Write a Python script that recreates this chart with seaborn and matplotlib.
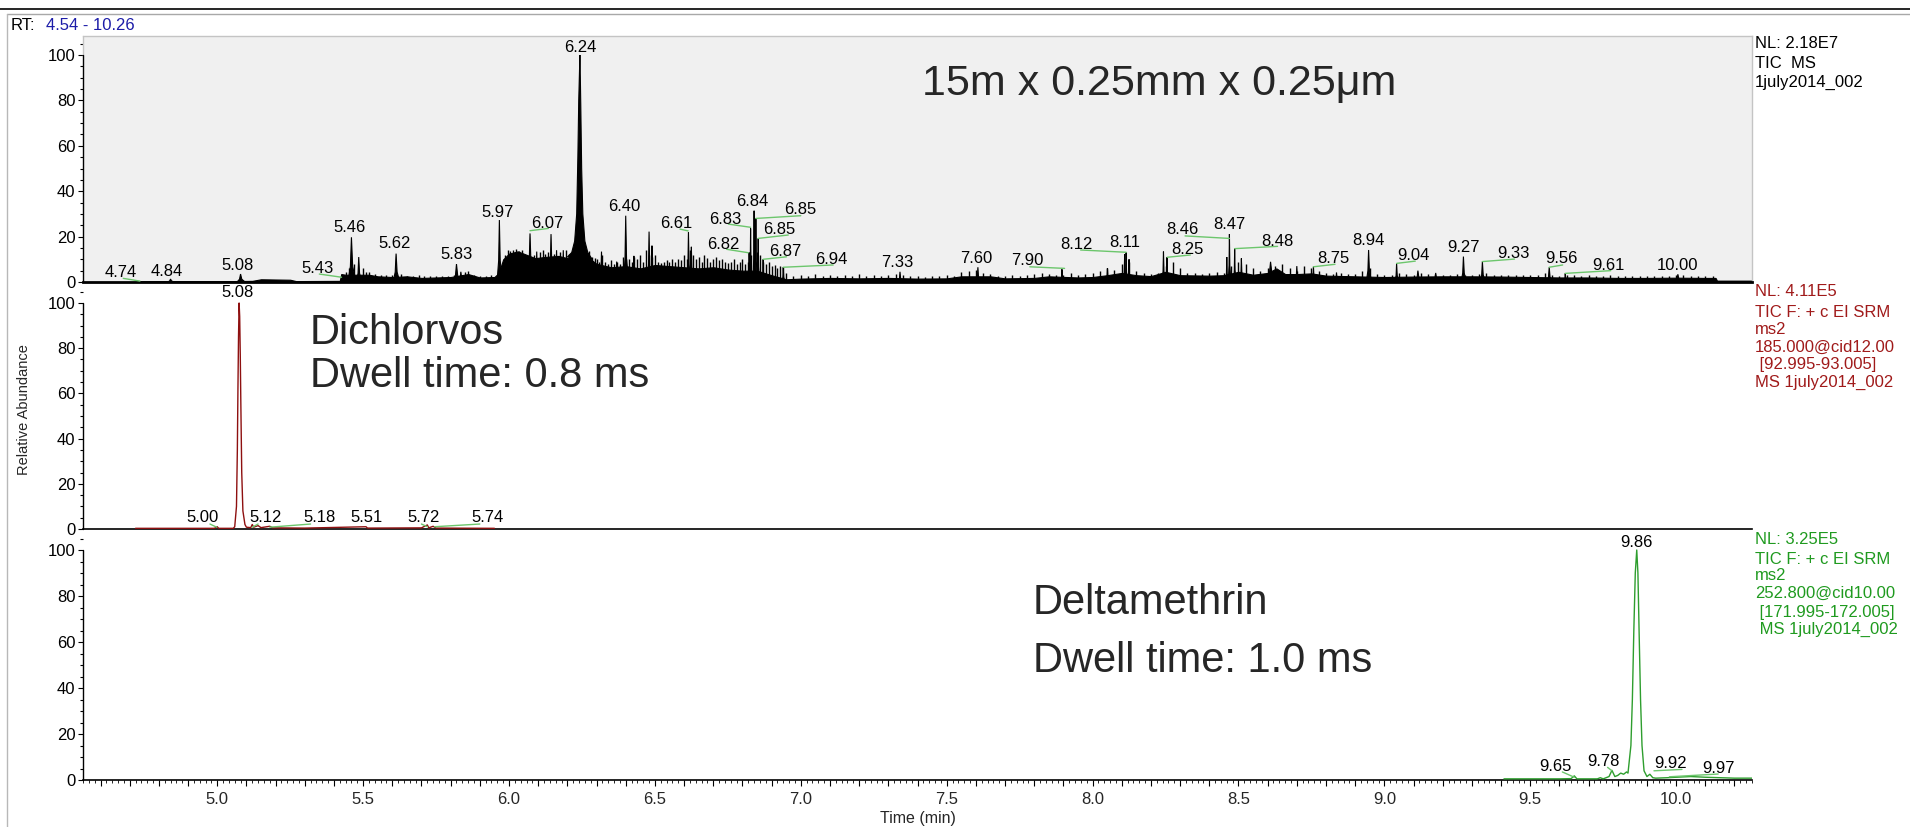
import numpy as np
import pandas as pd
import matplotlib
matplotlib.use("Agg")
import matplotlib.pyplot as plt
from matplotlib.lines import Line2D
from matplotlib.ticker import MultipleLocator, FuncFormatter
import seaborn as sns

sns.set_style("ticks")
plt.rcParams["font.family"] = ["Liberation Sans", "DejaVu Sans"]

# ---------------- data ----------------
rt_min, rt_max = 4.54, 10.26

# TIC (top panel): noise floor envelope
tic_floor_rt = [4.72, 4.83, 4.86, 5.05, 5.12, 5.15, 5.25, 5.27, 5.42, 5.425, 5.44, 5.52, 5.55, 5.60,
                5.65, 5.70, 5.80, 5.86, 5.90, 5.95, 5.965, 5.98, 6.00, 6.03, 6.06, 6.09, 6.12, 6.17,
                6.20, 6.22, 6.27, 6.30, 6.35, 6.40, 6.45, 6.50, 6.55, 6.60, 6.65, 6.70, 6.75, 6.80,
                6.85, 6.90, 6.95, 7.00, 7.10, 7.20, 7.30, 7.40, 7.50, 7.55, 7.65, 7.70, 7.80, 7.85,
                7.95, 8.00, 8.05, 8.10, 8.15, 8.20, 8.25, 8.30, 8.40, 8.45, 8.50, 8.55, 8.60, 8.63,
                8.66, 8.70, 8.75, 8.80, 8.90, 9.00, 9.10, 9.20, 9.30, 9.40, 9.50, 9.60, 9.70, 9.80,
                9.90, 10.00, 10.10, 10.135, 10.14, 10.26]
tic_floor_val = [0.3, 0.4, 0.4, 0.4, 0.5, 1.2, 1.0, 0.4, 0.5, 3.5, 3.2, 3.2, 2.5, 2.2,
                 2.5, 1.8, 2.2, 3.5, 2.0, 2.2, 4.0, 10.0, 12.5, 13.5, 12.0, 10.5, 11.0, 11.5,
                 10.5, 12.0, 11.0, 8.0, 6.5, 7.0, 6.0, 7.5, 7.0, 6.5, 6.0, 6.5, 5.5, 5.0,
                 5.0, 3.0, 1.2, 1.5, 1.8, 1.6, 1.8, 1.5, 1.6, 2.5, 2.5, 1.6, 1.8, 2.5,
                 2.0, 2.2, 3.0, 4.0, 3.0, 2.6, 4.5, 3.0, 2.8, 3.0, 4.5, 3.2, 4.0, 6.0,
                 3.5, 3.5, 3.8, 2.8, 2.5, 2.2, 2.4, 2.5, 2.5, 2.4, 2.2, 2.0, 2.0, 1.8,
                 1.8, 1.9, 1.8, 1.8, 0.6, 0.6]

# TIC main peak (6.24)
tic_main_rt = [6.200, 6.215, 6.225, 6.232, 6.236, 6.239, 6.241, 6.243, 6.2445, 6.246, 6.249,
               6.253, 6.260, 6.270, 6.285]
tic_main_val = [11, 13, 18, 30, 55, 80, 90, 100, 90, 78, 50, 30, 18, 13, 10]

# TIC other peaks
tic_peak_rt = [4.84, 5.08, 5.46, 5.485, 5.613, 5.82, 5.835, 5.967, 6.072, 6.095,
               6.144, 6.163, 6.186, 6.317, 6.369, 6.40, 6.428, 6.48, 6.49, 6.615,
               6.625, 6.823, 6.828, 6.84, 6.846, 6.854, 6.871, 6.94, 7.34, 7.607,
               7.895, 8.051, 8.11, 8.115, 8.125, 8.243, 8.255, 8.46, 8.469, 8.487,
               8.51, 8.61, 8.70, 8.757, 8.836, 8.946, 9.042, 9.115, 9.176, 9.271,
               9.336, 9.565, 9.62, 10.006]
tic_peak_val = [1.3, 3.5, 19.7, 11.0, 12.5, 7.9, 4.5, 27.3, 21.4, 13.4,
                21.1, 14.0, 14.0, 13.4, 9.0, 29.2, 11.5, 22.2, 16.0, 22.0,
                15.5, 13.0, 23.6, 31.4, 28.0, 19.2, 10.0, 6.5, 4.5, 6.5,
                5.6, 6.0, 12.3, 13.0, 10.0, 13.4, 10.9, 11.0, 21.1, 14.7,
                10.4, 8.9, 7.0, 6.7, 4.2, 14.1, 8.2, 5.0, 4.0, 11.2,
                9.0, 6.5, 3.8, 3.4]
tic_peak_width = [0.010, 0.012, 0.012, 0.008, 0.010, 0.012, 0.008, 0.008, 0.010, 0.006,
                  0.008, 0.006, 0.006, 0.006, 0.006, 0.008, 0.005, 0.006, 0.005, 0.006,
                  0.005, 0.004, 0.004, 0.004, 0.004, 0.004, 0.004, 0.004, 0.006, 0.006,
                  0.004, 0.005, 0.005, 0.004, 0.004, 0.005, 0.004, 0.004, 0.004, 0.004,
                  0.005, 0.015, 0.006, 0.005, 0.006, 0.008, 0.006, 0.010, 0.008, 0.008,
                  0.008, 0.008, 0.005, 0.010]

# TIC noise spikes
hair_c_rt = [5.44, 5.45, 5.47, 5.50, 5.51, 5.52, 5.54, 5.56, 5.58, 5.60, 5.63, 5.65, 5.67,
             5.69, 5.71, 5.73, 5.75, 5.77, 5.79, 5.81, 5.85, 5.86, 5.88, 5.90, 5.92, 5.94]
hair_c_val = [4.5, 6, 8, 6, 4.5, 4.2, 3.6, 3.2, 3.3, 3.0, 3.4, 2.8, 2.6,
              2.9, 2.6, 2.8, 2.5, 2.8, 2.6, 3.0, 4.5, 5, 3.3, 2.8, 2.6, 2.9]
hair_d_rt = [5.985, 5.995, 6.005, 6.015, 6.025, 6.035, 6.045, 6.055, 6.085, 6.105,
             6.115, 6.125, 6.135, 6.155, 6.175, 6.195, 6.205, 6.275, 6.285, 6.295]
hair_d_val = [12, 14, 13.5, 14, 14.5, 13.5, 14, 12, 12, 13,
              14, 12.5, 13, 12.5, 13, 14, 12.5, 13.5, 11, 10.5]
hair_a_start, hair_a_step = 6.30, 0.01
hair_a_val = [10, 9, 12, 9, 8, 9.5, 8, 9, 8, 11,
              10, 10, 9, 11, 10, 12, 9, 14, 12, 11,
              12, 9, 8.5, 9, 9.5, 9, 10, 9, 10, 9.5,
              12, 10, 14, 12, 10, 11, 9, 12, 10.5, 9,
              10, 11, 9.5, 10, 9, 8.5, 9, 10, 8, 9,
              10, 8, 9, 12, 14, 13, 12, 9, 8, 9,
              7, 7.5, 6, 7, 6.5]
hair_b_start, hair_b_step = 6.95, 0.025
hair_b_val = [4, 2.5, 3, 2.5, 3.5, 2.5, 3, 2.5,
              3, 2.5, 3.5, 2.5, 3, 2.8, 3.2, 3.5,
              3, 2.5, 2.8, 2.4, 2.8, 2.5, 3, 2.6,
              4.5, 5, 5.5, 4, 3.5, 2.8, 2.5, 3,
              2.8, 3, 3.4, 3.8, 3.5, 3, 3.2, 4,
              3, 3.5, 4, 5, 6, 5.5, 8, 9,
              5, 4, 3.5, 4, 7, 9, 6, 4,
              4, 3.5, 4, 4.5, 4, 7, 9, 8,
              6, 5, 6, 7, 8, 6, 5, 7,
              6, 5, 4, 3.5, 4, 3.5, 3.5, 5,
              6, 3.5, 3, 3, 4, 3.5, 3, 4,
              3.5, 3.5, 3, 3, 3.5, 3, 3, 3.5,
              4, 3, 3, 3.2, 3, 3, 3, 3,
              4, 3, 2.8, 3.2, 3, 2.8, 3, 2.8,
              2.8, 3, 2.7, 2.8, 2.6, 2.8, 2.5, 2.8,
              2.6, 2.8, 3.2, 3, 2.8, 2.7, 2.6, 2.6]

# Dichlorvos SRM trace (middle panel)
red_rt = [4.72, 4.90, 4.99, 5.000, 5.005, 5.055, 5.060, 5.066, 5.069, 5.071, 5.073, 5.075,
          5.077, 5.079, 5.081, 5.084, 5.088, 5.095, 5.10, 5.115, 5.12, 5.125, 5.14, 5.15,
          5.18, 5.19, 5.30, 5.51, 5.515, 5.70, 5.72, 5.725, 5.74, 5.75, 5.95]
red_val = [0.3, 0.3, 0.3, 1.0, 0.3, 0.3, 1, 10, 35, 62, 85, 100,
           94, 77, 55, 25, 8, 2, 0.8, 0.6, 2.0, 0.8, 1.5, 0.6,
           1.2, 0.5, 0.4, 1.0, 0.4, 0.5, 1.8, 0.5, 1.2, 0.4, 0.3]

# Deltamethrin SRM trace (bottom panel)
green_rt = [9.41, 9.60, 9.64, 9.651, 9.66, 9.73, 9.74, 9.75, 9.77, 9.78, 9.79, 9.80, 9.81,
            9.82, 9.83, 9.835, 9.845, 9.850, 9.855, 9.860, 9.865, 9.869, 9.873, 9.878,
            9.883, 9.890, 9.900, 9.910, 9.920, 9.930, 9.970, 10.00, 10.05, 10.10, 10.20, 10.26]
green_val = [0.5, 0.5, 0.6, 1.8, 0.5, 0.5, 1.0, 0.5, 1.5, 4.2, 1.5, 2.0, 3.0,
             2.5, 3.5, 3, 15, 35, 65, 90, 100, 90, 65, 35,
             15, 4, 1.5, 2.5, 1.0, 0.8, 1.0, 1.2, 1.5, 1.2, 0.8, 0.8]

# peak labels
top_lab_text = ["4.74", "4.84", "5.08", "5.43", "5.46", "5.62", "5.83", "5.97", "6.07", "6.24",
                "6.40", "6.61", "6.82", "6.83", "6.84", "6.85", "6.85", "6.87", "6.94", "7.33",
                "7.60", "7.90", "8.12", "8.11", "8.25", "8.46", "8.47", "8.48", "8.75", "8.94",
                "9.04", "9.27", "9.33", "9.56", "9.61", "10.00"]
top_lab_x = [4.67, 4.827, 5.07, 5.343, 5.453, 5.609, 5.82, 5.962, 6.13, 6.243,
             6.394, 6.574, 6.734, 6.741, 6.834, 6.997, 6.926, 6.946, 7.105, 7.331,
             7.601, 7.775, 7.944, 8.11, 8.326, 8.308, 8.469, 8.635, 8.825, 8.946,
             9.10, 9.271, 9.442, 9.607, 9.767, 10.006]
top_lab_y = [2.0, 2.6, 5.3, 4.1, 21.9, 14.8, 10.1, 28.8, 24.0, 101.5,
             31.3, 24.0, 14.5, 25.5, 33.5, 29.8, 21.0, 11.5, 7.8, 6.5,
             8.2, 7.5, 14.4, 15.6, 12.2, 21.0, 23.3, 16.0, 8.2, 16.3,
             9.7, 13.4, 10.7, 8.2, 5.3, 5.3]
top_conn = [(4.678, 1.6, 4.735, 0.4), (5.35, 3.5, 5.426, 2.1), (6.072, 22.6, 6.135, 23.6),
            (6.586, 23.3, 6.614, 22.5), (6.746, 14.4, 6.82, 12.9), (6.752, 25.5, 6.828, 24.1),
            (6.846, 28.0, 7.0, 29.2), (6.854, 19.2, 6.957, 20.7), (6.871, 10.0, 6.951, 11.1),
            (6.94, 6.5, 7.111, 7.5), (7.785, 6.7, 7.904, 6.0), (7.959, 14.1, 8.115, 13.1),
            (8.256, 10.9, 8.335, 11.9), (8.317, 20.3, 8.469, 19.2), (8.487, 14.7, 8.634, 15.7),
            (8.757, 6.7, 8.831, 7.8), (9.042, 8.2, 9.106, 9.2), (9.336, 9.0, 9.446, 10.1),
            (9.565, 6.5, 9.611, 7.5), (9.62, 3.8, 9.776, 5.0)]

mid_lab_text = ["5.08", "5.00", "5.12", "5.18", "5.51", "5.72", "5.74"]
mid_lab_x = [5.07, 4.951, 5.165, 5.349, 5.512, 5.708, 5.925]
mid_lab_y = [102.7, 3.0, 3.0, 3.0, 3.0, 3.0, 3.0]
mid_conn = [(4.975, 2.2, 4.998, 0.8), (5.12, 0.8, 5.14, 2.2), (5.18, 0.8, 5.32, 2.2),
            (5.70, 2.2, 5.72, 1.0), (5.745, 1.0, 5.90, 2.2)]

bot_lab_text = ["9.86", "9.65", "9.78", "9.92", "9.97"]
bot_lab_x = [9.865, 9.588, 9.752, 9.982, 10.144]
bot_lab_y = [101.5, 4.0, 6.0, 5.0, 3.2]
bot_conn = [(9.61, 3.5, 9.651, 1.2), (9.765, 5.5, 9.78, 4.0), (9.924, 4.0, 10.02, 4.6),
            (9.977, 1.4, 10.144, 2.6)]

top_info = ["NL: 2.18E7", "TIC  MS", "1july2014_002"]
mid_info = ["NL: 4.11E5", "TIC F: + c EI SRM", "ms2", "185.000@cid12.00", " [92.995-93.005]",
            "MS 1july2014_002"]
bot_info = ["NL: 3.25E5", "TIC F: + c EI SRM", "ms2", "252.800@cid10.00", " [171.995-172.005]",
            " MS 1july2014_002"]

# ---------------- figure ----------------
W, H = 1910, 827
fig = plt.figure(figsize=(W / 100, H / 100), dpi=100)


def fx(px):
    return px / W


def fy(py):
    return 1 - py / H


left, right = 83, 1752
ax_top = fig.add_axes([fx(left), fy(282), fx(right - left), (282 - 36) / H])
ax_mid = fig.add_axes([fx(left), fy(529), fx(right - left), (529 - 289) / H])
ax_bot = fig.add_axes([fx(left), fy(780), fx(right - left), (780 - 537) / H])
ax_top.set_ylim(0, (282 - 36) / 2.27)
ax_mid.set_ylim(0, (529 - 289) / 2.26)
ax_bot.set_ylim(0, (780 - 537) / 2.30)

RED = "#8e1010"
GREEN = "#2e9e2e"
CONN = "#6cc66c"
LAB_FS = 12

for ax in (ax_top, ax_mid, ax_bot):
    ax.set_xlim(rt_min, rt_max)
    ax.yaxis.set_major_locator(MultipleLocator(20))
    ax.yaxis.set_minor_locator(MultipleLocator(5))
    ax.set_yticks([0, 20, 40, 60, 80, 100])
    ax.tick_params(axis="y", which="major", direction="out", length=3.5, width=0.8,
                   labelsize=12, pad=2, color="black", labelcolor="black")
    ax.tick_params(axis="y", which="minor", direction="out", length=2.2, width=0.8,
                   color="black")
    ax.spines["left"].set_visible(False)
    ax.axvline(rt_min, ymin=0, ymax=100 / ax.get_ylim()[1], color="black", lw=1.0,
               clip_on=False, zorder=5)
    ax.spines["bottom"].set_color("black")
    ax.spines["bottom"].set_linewidth(1.2)

for ax in (ax_top, ax_mid):
    ax.tick_params(axis="x", which="both", bottom=False, labelbottom=False)

# top panel background frame
ax_top.set_facecolor("#f0f0f0")
for s in ("top", "right"):
    ax_top.spines[s].set_color("#c4c4c4")
    ax_top.spines[s].set_linewidth(1.0)
ax_top.plot([rt_min, rt_min], [100, ax_top.get_ylim()[1]], color="#c4c4c4", lw=1.0,
            clip_on=False)
ax_top.spines["bottom"].set_linewidth(2.0)
for ax in (ax_mid, ax_bot):
    ax.spines["top"].set_visible(False)
    ax.spines["right"].set_visible(False)
    ax.set_facecolor("white")

# ---- TIC ----
ax_top.fill_between(tic_floor_rt, 0, tic_floor_val, color="black", lw=0.8, zorder=2)
for rt, h, w in zip(tic_peak_rt, tic_peak_val, tic_peak_width):
    ax_top.fill([rt - w, rt - 0.3 * w, rt, rt + 0.35 * w, rt + 1.3 * w],
                [0, 0.35 * h, h, 0.35 * h, 0], color="black", lw=0.8, zorder=3)
ax_top.fill(tic_main_rt, tic_main_val, color="black", lw=0.8, zorder=3)
hair_a_rt = hair_a_start + hair_a_step * np.arange(len(hair_a_val))
hair_b_rt = hair_b_start + hair_b_step * np.arange(len(hair_b_val))
for hx, hv in ((hair_a_rt, hair_a_val), (hair_b_rt, hair_b_val),
               (hair_c_rt, hair_c_val), (hair_d_rt, hair_d_val)):
    ax_top.vlines(hx, 0, hv, color="black", lw=1.0, zorder=3)

# ---- SRM traces via seaborn ----
sns.lineplot(x=red_rt, y=red_val, ax=ax_mid, color=RED, lw=1.0, estimator=None,
             sort=False, zorder=3)
sns.lineplot(x=green_rt, y=green_val, ax=ax_bot, color=GREEN, lw=1.0, estimator=None,
             sort=False, zorder=3)
for ax in (ax_top, ax_mid, ax_bot):
    ax.set_xlabel("")
    ax.set_ylabel("")

# bottom x axis
ax_bot.xaxis.set_major_locator(MultipleLocator(0.1))
ax_bot.xaxis.set_minor_locator(MultipleLocator(0.02))
ax_bot.xaxis.set_major_formatter(FuncFormatter(
    lambda v, p: f"{v:.1f}" if abs(v * 2 - round(v * 2)) < 1e-6 else ""))
ax_bot.tick_params(axis="x", which="major", direction="out", length=4.5, width=0.8,
                   labelsize=12, pad=4, color="black")
ax_bot.tick_params(axis="x", which="minor", direction="out", length=2.0, width=0.6,
                   color="black")
fig.text(fx((left + right) / 2), fy(818), "Time (min)", fontsize=11.5, ha="center",
         va="center")

# ---- labels & connectors ----
for ax, texts, xs, ys, conns in ((ax_top, top_lab_text, top_lab_x, top_lab_y, top_conn),
                                 (ax_mid, mid_lab_text, mid_lab_x, mid_lab_y, mid_conn),
                                 (ax_bot, bot_lab_text, bot_lab_x, bot_lab_y, bot_conn)):
    for t, x, y in zip(texts, xs, ys):
        ax.text(x, y, t, ha="center", va="baseline", fontsize=LAB_FS, color="black",
                zorder=6, clip_on=False)
    for x1, y1, x2, y2 in conns:
        ax.plot([x1, x2], [y1, y2], color=CONN, lw=1.0, zorder=5)

# big annotations
ax_top.text(7.415, 82.4, "15m x 0.25mm x 0.25μm", fontsize=31, ha="left", va="baseline")
ax_mid.text(5.318, 82, "Dichlorvos", fontsize=30, ha="left", va="baseline")
ax_mid.text(5.318, 63, "Dwell time: 0.8 ms", fontsize=30, ha="left", va="baseline")
ax_bot.text(7.796, 72.2, "Deltamethrin", fontsize=30, ha="left", va="baseline")
ax_bot.text(7.796, 47, "Dwell time: 1.0 ms", fontsize=30, ha="left", va="baseline")

# right side info blocks
for lines, ys, col in ((top_info, [43, 64, 82], "black"),
                       (mid_info, [292, 312, 329, 347, 365, 382], "#a01a1a"),
                       (bot_info, [539, 559, 576, 593, 612, 629], "#1f9a1f")):
    for s, y in zip(lines, ys):
        fig.text(fx(1755), fy(y), s, fontsize=12, color=col, ha="left", va="center")

# y label
fig.text(fx(24), fy(410), "Relative Abundance", rotation=90, fontsize=10.5,
         ha="center", va="center")

# header
fig.text(fx(11), fy(26), "RT:", fontsize=12, ha="left", va="center", color="black")
fig.text(fx(46), fy(26), "4.54 - 10.26", fontsize=12, ha="left", va="center", color="#1c1ca8")

# window frame lines
fig.add_artist(Line2D([0, 1], [fy(9), fy(9)], transform=fig.transFigure, color="black", lw=1.2))
fig.add_artist(Line2D([fx(7), 1], [fy(14), fy(14)], transform=fig.transFigure,
                      color="#a8a8a8", lw=1.0))
fig.add_artist(Line2D([fx(7), fx(7)], [0, fy(14)], transform=fig.transFigure,
                      color="#b8b8b8", lw=1.0))

fig.savefig("out.png", dpi=100)
